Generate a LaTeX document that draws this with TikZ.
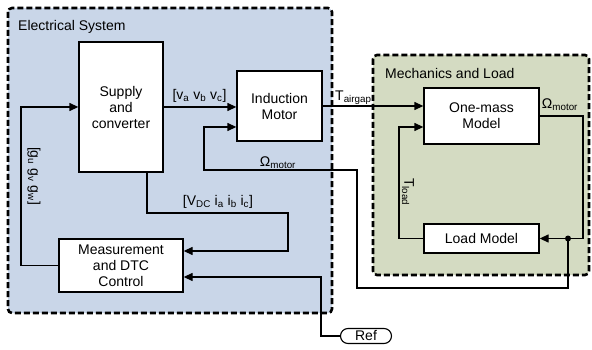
\documentclass[tikz,border=0pt]{standalone}
\usepackage{fontspec}
\setmainfont{Liberation Sans}
\usetikzlibrary{arrows.meta,shapes.misc}
\definecolor{elecblue}{HTML}{C9D6E8}
\definecolor{mechgreen}{HTML}{D4DBC2}
\begin{document}
\begin{tikzpicture}[x=1pt,y=-1pt,
  font=\fontsize{14}{16}\selectfont,
  blk/.style={draw,line width=1.3pt,fill=white,inner sep=0pt,align=center},
  arr/.style={line width=1.3pt,-{Triangle[length=9pt,width=8pt]}},
  ln/.style={line width=1.3pt},
  region/.style={line width=2.6pt,dash pattern=on 6pt off 3pt,rounded corners=4pt},
  lbl/.style={inner sep=0pt},
  sub/.style={}]
\useasboundingbox (0,0) rectangle (592,350);
% regions
\draw[region,fill=elecblue] (8,8) rectangle (332,313);
\draw[region,fill=mechgreen] (373,55) rectangle (589,275);
\node[lbl,anchor=west] (elabel) at (18,27) {Electrical System};
\node[lbl,anchor=west] (mlabel) at (385,73) {Mechanics and Load};
% blocks
\node[blk,minimum width=84pt,minimum height=130pt] (supply) at (121,107) {Supply\\and\\converter};
\node[blk,minimum width=85pt,minimum height=70pt] (im) at (279.5,106) {Induction\\Motor};
\node[blk,minimum width=124pt,minimum height=53pt] (meas) at (121,265.5) {Measurement\\and DTC\\Control};
\node[blk,minimum width=115pt,minimum height=56pt] (onemass) at (481.5,116) {One-mass\\Model};
\node[blk,minimum width=115pt,minimum height=29pt] (load) at (481.5,238.5) {Load Model};
\node[draw,line width=1.1pt,rounded rectangle,minimum width=51pt,minimum height=15pt,inner sep=0pt] (ref) at (366,336) {Ref};
\coordinate (j) at (568,238.5);
% connectors
\draw[arr] (supply.east) -- (supply.east -| im.west);
\draw[arr] (im.east) -- (im.east -| onemass.west);
\draw[arr] (onemass.east) -- (583,116) -- (583,238.5) -- (load.east);
\draw[arr] (j) -- (568,288) -- (357,288) -- (357,170) -- (204,170) -- (204,127) -- (im.west |- 0,127);
\fill (j) circle (3pt);
\draw[arr] (load.west) -- (399,238.5) -- (399,127) -- (onemass.west |- 0,127);
\draw[arr] (supply.south -| 147,0) -- (147,213) -- (288,213) -- (288,251) -- (meas.east |- 0,251);
\draw[arr] (meas.west) -- (21,265.5) -- (21,107) -- (supply.west);
\draw[arr] (ref.west) -- (321,336) -- (321,277) -- (meas.east |- 0,277);
% labels
\node[lbl] (vabc) at (199.5,96) {[v\textsubscript{a} v\textsubscript{b} v\textsubscript{c}]};
\node[lbl,anchor=west] (tair) at (335,98) {T\textsubscript{airgap}};
\node[lbl] (om1) at (278,163) {Ω\textsubscript{motor}};
\node[lbl] (vdc) at (218,202) {[V\textsubscript{DC} i\textsubscript{a} i\textsubscript{b} i\textsubscript{c}]};
\node[lbl] (om2) at (560,105) {Ω\textsubscript{motor}};
\node[lbl,rotate=-90] (gl) at (34,176) {[g\textsubscript{u} g\textsubscript{v} g\textsubscript{w}]};
\node[lbl,rotate=-90] (tl) at (408,192) {T\textsubscript{load}};
\end{tikzpicture}
\end{document}
